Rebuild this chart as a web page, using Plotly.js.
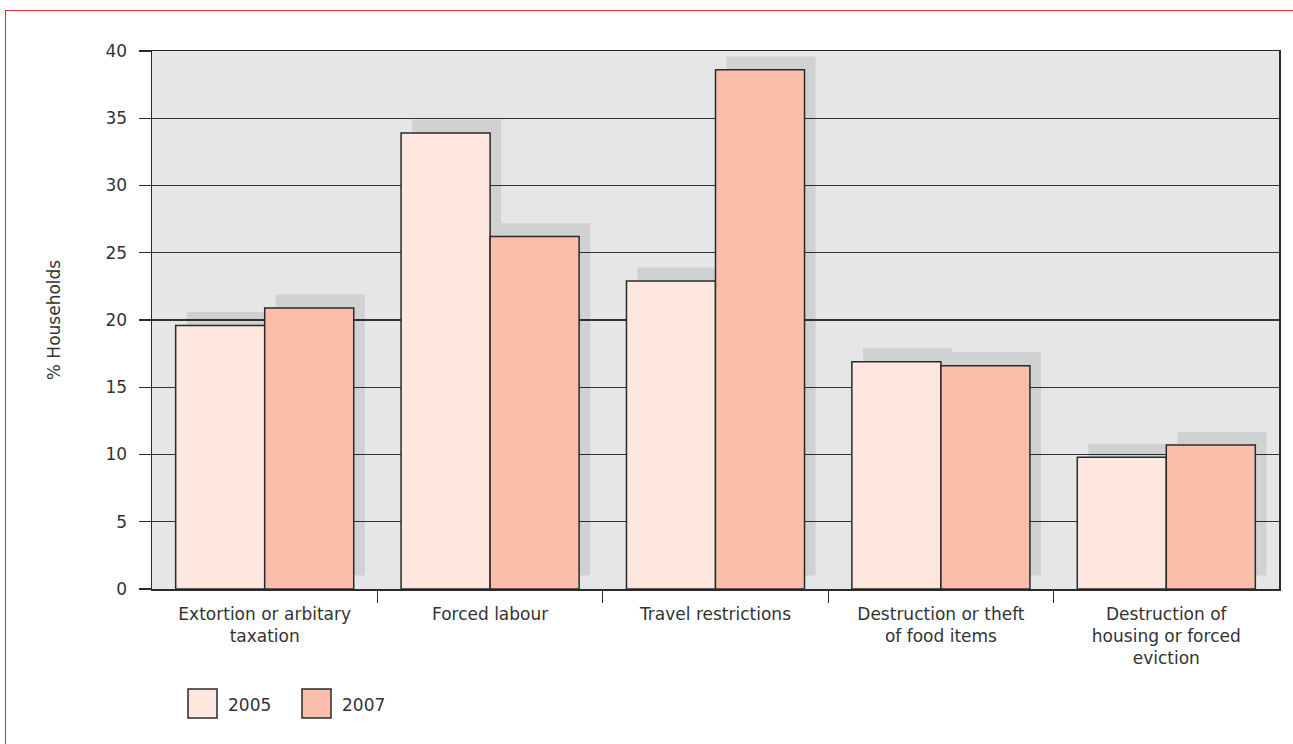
<!DOCTYPE html>
<html>
<head>
<meta charset="utf-8">
<script src="https://cdn.plot.ly/plotly-3.0.1.min.js"></script>
<style>
html,body{margin:0;padding:0;background:#fff;}
#chart{width:1293px;height:744px;position:absolute;left:0;top:0;}
#frame{position:absolute;left:5px;top:10px;width:1300px;height:800px;border-left:1.5px solid #ee2436;border-top:1.5px solid #ee2436;pointer-events:none;}
</style>
</head>
<body>
<div id="chart"></div>
<div id="frame"></div>
<script>
// Data
const categories = [
  "Extortion or arbitary<br>taxation",
  "Forced labour",
  "Travel restrictions",
  "Destruction or theft<br>of food items",
  "Destruction of<br>housing or forced<br>eviction"
];
const seriesNames = ["2005", "2007"];
const values2005 = [19.6, 33.9, 22.9, 16.9, 9.8];
const values2007 = [20.9, 26.2, 38.6, 16.6, 10.7];
const yTicks = [0, 5, 10, 15, 20, 25, 30, 35, 40];

// Styles
const colors = ["#fde7de", "#fabeaa"];
const outline = "#2a2a2a";
const shadowColor = "rgba(0,0,0,0.09)";
const barW = 0.395;
const shadowDx = 0.049;
const shadowDy = 1.0;
const pos = categories.map((c, i) => i);
const textColor = "#333333";
const font = "DejaVu Sans, sans-serif";
const fsize = 17;

const series = [values2005, values2007];
const offsets = [-barW, 0];

const traces = [];
// shadows
series.forEach((vals, k) => {
  traces.push({
    type: "bar", x: pos, y: vals, base: vals.map(() => shadowDy),
    width: barW, offset: offsets[k] + shadowDx,
    marker: {color: shadowColor, line: {width: 0}},
    hoverinfo: "skip", showlegend: false
  });
});
// main bars
series.forEach((vals, k) => {
  traces.push({
    type: "bar", x: pos, y: vals, name: seriesNames[k],
    width: barW, offset: offsets[k],
    marker: {color: colors[k], line: {color: outline, width: 1.5}},
    showlegend: false
  });
});

// custom legend (paper coords relative to plot area)
const L = 152, R = 1279, T = 51, B = 589;
const pw = R - L, ph = B - T;
const px = v => (v - L) / pw;
const py = v => (B - v) / ph;
const legendX = [188, 302];
const shapes = [];
const annotations = [];
seriesNames.forEach((n, k) => {
  shapes.push({
    type: "rect", xref: "paper", yref: "paper",
    x0: px(legendX[k]), x1: px(legendX[k] + 29), y0: py(718), y1: py(689),
    fillcolor: colors[k], line: {color: outline, width: 1.5}
  });
  annotations.push({
    xref: "paper", yref: "paper", x: px(legendX[k] + 38), y: py(705),
    xanchor: "left", yanchor: "middle", showarrow: false, text: n,
    font: {family: font, size: fsize, color: textColor}
  });
});

const layout = {
  width: 1293, height: 744,
  margin: {l: L, r: 1293 - R, t: T, b: 744 - B},
  paper_bgcolor: "#ffffff",
  plot_bgcolor: "#e5e6e8",
  barmode: "overlay",
  font: {family: font, size: fsize, color: textColor},
  showlegend: false,
  xaxis: {
    range: [-0.5, 4.5], tickmode: "array", tickvals: pos, ticktext: categories,
    ticks: "", ticklen: 0, showgrid: false, zeroline: false,
    showline: true, mirror: true, linecolor: outline, linewidth: 1.5,
    ticklabelstandoff: 9,
    tickfont: {family: font, size: fsize, color: textColor},
    minor: {tickmode: "array", tickvals: [0.5, 1.5, 2.5, 3.5], ticks: "outside",
            ticklen: 12, tickcolor: outline, tickwidth: 1.3, showgrid: false},
    fixedrange: true
  },
  yaxis: {
    range: [0, 40], tickmode: "array", tickvals: yTicks,
    ticks: "outside", ticklen: 12, tickcolor: outline, tickwidth: 1.3,
    showgrid: true, gridcolor: "#333333", gridwidth: 1.4, zeroline: false,
    showline: true, mirror: true, linecolor: outline, linewidth: 1.5,
    ticklabelstandoff: 8,
    tickfont: {family: font, size: fsize, color: textColor},
    title: {text: "% Households", standoff: 40, font: {family: font, size: fsize, color: textColor}},
    fixedrange: true
  },
  shapes: shapes,
  annotations: annotations
};

Plotly.newPlot("chart", traces, layout, {displayModeBar: false, staticPlot: true});
</script>
</body>
</html>
